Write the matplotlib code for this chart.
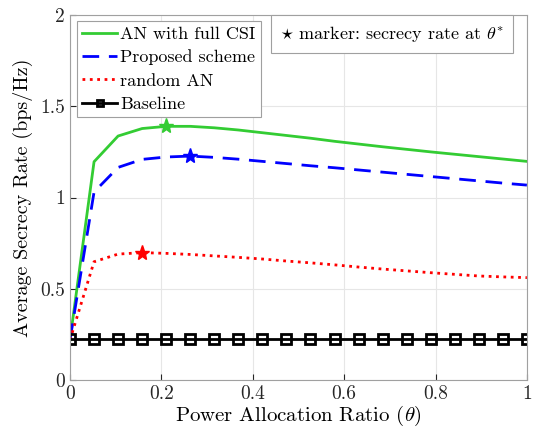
#!/usr/bin/env python3

import numpy as np
import matplotlib
matplotlib.use('Agg')
import matplotlib.pyplot as plt

plt.rcParams['font.family'] = 'serif'
plt.rcParams['font.serif'] = ['cmr10']
plt.rcParams['mathtext.fontset'] = 'cm'
plt.rcParams['axes.formatter.use_mathtext'] = True

# data (20 points on theta in [0, 1])
theta = np.linspace(0, 1, 20)
full_csi = [0.22, 1.196, 1.337, 1.378, 1.390, 1.390, 1.382, 1.370, 1.355, 1.340,
            1.325, 1.308, 1.293, 1.278, 1.264, 1.250, 1.237, 1.224, 1.211, 1.198]
proposed = [0.22, 1.03, 1.165, 1.209, 1.222, 1.227, 1.220, 1.210, 1.198, 1.186,
            1.174, 1.163, 1.151, 1.139, 1.127, 1.115, 1.103, 1.091, 1.079, 1.068]
random_an = [0.22, 0.648, 0.690, 0.698, 0.694, 0.688, 0.680, 0.672, 0.663, 0.652,
             0.642, 0.631, 0.619, 0.608, 0.598, 0.588, 0.579, 0.570, 0.565, 0.561]
baseline = [0.223] * 20

# index of theta* for each curve
opt_full, opt_prop, opt_rand = 4, 5, 3

green = '#33cc33'
fig = plt.figure(figsize=(5.36, 4.34), dpi=100)
ax = fig.add_axes([0.1306, 0.1244, 0.8524, 0.841])

ax.plot(theta, full_csi, '-', color=green, lw=2, label='AN with full CSI')
ax.plot(theta, proposed, '--', color='blue', lw=2, dashes=(6, 3.5), label='Proposed scheme')
ax.plot(theta, random_an, ':', color='red', lw=2, label='random AN')
ax.plot(theta, baseline, '-s', color='black', lw=2, ms=6.5, mfc='none', mew=2,
        label='Baseline')

ax.plot(theta[opt_full], full_csi[opt_full], '*', color=green, ms=11)
ax.plot(theta[opt_prop], proposed[opt_prop], '*', color='blue', ms=11)
ax.plot(theta[opt_rand], random_an[opt_rand], '*', color='red', ms=11)

ax.set_xlim(0, 1)
ax.set_ylim(0, 2)
ax.set_xticks(np.arange(0, 1.01, 0.2))
ax.set_xticklabels(['0', '0.2', '0.4', '0.6', '0.8', '1'])
ax.set_yticks([0, 0.5, 1, 1.5, 2])
ax.set_yticklabels(['0', '0.5', '1', '1.5', '2'])
ax.tick_params(direction='in', labelsize=14, length=4, colors='#262626')
ax.grid(True, color='#e6e6e6', lw=0.8)
for sp in ax.spines.values():
    sp.set_color('#a0a0a0')

ax.set_xlabel(r'Power Allocation Ratio ($\theta$)', fontsize=15, labelpad=1)
ax.set_ylabel('Average Secrecy Rate (bps/Hz)', fontsize=14.5, labelpad=5)

leg = ax.legend(loc='upper left', bbox_to_anchor=(7 / 457, 1 - 6 / 365),
                fontsize=13, handlelength=1.9, handletextpad=0.2,
                borderpad=0.3, labelspacing=0.42, borderaxespad=0,
                fancybox=False, framealpha=1, markerscale=0.75)
leg.get_frame().set_edgecolor('#a0a0a0')
leg.get_frame().set_linewidth(0.8)

ax.text(0.46, 0.947, r'$\star$ marker: secrecy rate at $\theta^{*}$', transform=ax.transAxes,
        fontsize=13, va='center', ha='left',
        bbox=dict(boxstyle='square,pad=0.5', fc='white', ec='#a0a0a0', lw=0.8))

plt.savefig('out.png', dpi=100)
